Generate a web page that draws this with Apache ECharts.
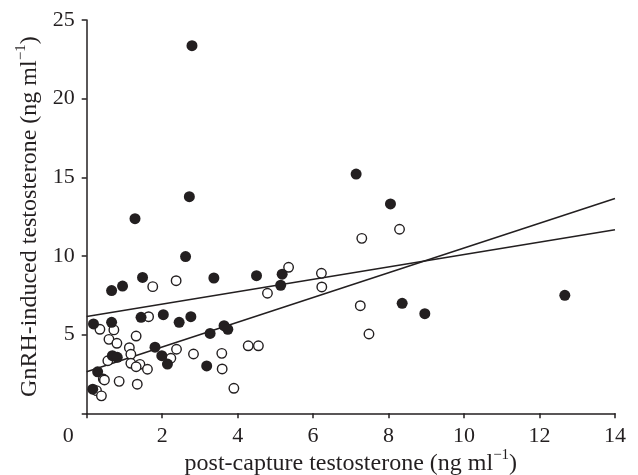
<!DOCTYPE html>
<html>
<head>
<meta charset="utf-8">
<script src="https://cdn.jsdelivr.net/npm/echarts@6/dist/echarts.min.js"></script>
<style>
html,body{margin:0;padding:0;background:#fff;}
#chart{width:638px;height:475px;}
</style>
</head>
<body>
<div id="chart"></div>
<script>
// Filled circles: [post-capture, GnRH-induced]
var filledPoints = [
  [2.79,23.37],[2.72,13.77],[1.28,12.37],[2.62,9.96],[1.48,8.64],[0.95,8.09],[0.66,7.80],
  [3.37,8.60],[4.50,8.75],[7.14,15.21],[8.05,13.31],[5.18,8.84],[5.14,8.14],[8.36,6.99],
  [8.96,6.33],[12.67,7.50],[0.18,5.68],[0.66,5.78],[1.44,6.10],[2.03,6.27],[2.45,5.78],
  [2.76,6.14],[3.27,5.08],[3.64,5.57],[3.74,5.34],[0.68,3.66],[0.81,3.56],[1.81,4.20],
  [1.99,3.66],[2.14,3.13],[3.18,3.01],[0.29,2.64],[0.16,1.53]
];
// Open circles
var openPoints = [
  [1.75,8.05],[2.37,8.43],[8.29,11.70],[7.29,11.12],[5.35,9.28],[4.79,7.63],[6.22,8.90],
  [6.23,8.03],[7.25,6.84],[7.48,5.04],[4.28,4.29],[4.55,4.29],[0.35,5.34],[0.72,5.30],
  [1.64,6.14],[0.59,4.70],[0.80,4.45],[1.31,4.91],[1.13,4.17],[1.17,3.75],[0.56,3.34],
  [1.17,3.18],[1.41,3.11],[1.31,2.96],[1.61,2.80],[2.38,4.07],[2.23,3.50],[2.83,3.77],
  [3.58,3.81],[3.59,2.82],[3.90,1.59],[0.44,2.18],[0.26,1.44],[0.39,1.11],[0.47,2.12],
  [0.86,2.03],[1.34,1.85]
];
// Regression line endpoints
var lineX = [0, 14];
var lineShallowY = [6.15, 11.67];
var lineSteepY = [2.64, 13.65];

var xTicks = [0, 2, 4, 6, 8, 10, 12, 14];
var yTicks = [0, 5, 10, 15, 20, 25];

var FONT = "'Liberation Serif','Times New Roman',serif";
var INK = '#231f20';

function pairs(xs, ys){ return xs.map(function(x,i){ return [x, ys[i]]; }); }

var chart = echarts.init(document.getElementById('chart'), null, {renderer:'canvas'});
chart.setOption({
  animation: false,
  backgroundColor: '#fff',
  grid: {left: 86.7, right: 23, top: 20, bottom: 61.7, containLabel: false, outerBoundsMode: 'none'},
  xAxis: {
    type: 'value', min: xTicks[0], max: xTicks[xTicks.length-1], interval: 2,
    axisLine: {show: true, onZero: false, lineStyle: {color: INK, width: 1.5}},
    axisTick: {show: true, inside: false, length: 5, lineStyle: {color: INK, width: 1.5}},
    splitLine: {show: false},
    axisLabel: {
      color: INK, fontFamily: FONT, fontSize: 22, margin: 12,
      formatter: function(v){ return v === 0 ? '{zero|0}' : String(v); },
      rich: {zero: {fontFamily: FONT, fontSize: 22, color: INK, padding: [0, 37, 0, 0]}}
    },
    name: '{t|post-capture testosterone (ng ml}{s|\u22121}{t|)}',
    nameLocation: 'middle', nameGap: 34, nameMoveOverlap: false,
    nameTextStyle: {
      rich: {
        t: {fontFamily: FONT, fontSize: 24, color: INK, lineHeight: 28, verticalAlign: 'bottom'},
        s: {fontFamily: FONT, fontSize: 15, color: INK, lineHeight: 28, verticalAlign: 'top'}
      }
    }
  },
  yAxis: {
    type: 'value', min: yTicks[0], max: yTicks[yTicks.length-1], interval: 5,
    axisLine: {show: true, onZero: false, lineStyle: {color: INK, width: 1.5}},
    axisTick: {show: true, inside: false, length: 5, lineStyle: {color: INK, width: 1.5}},
    splitLine: {show: false},
    axisLabel: {
      color: INK, fontFamily: FONT, fontSize: 22, margin: 12,
      formatter: function(v){ return v === 0 ? '' : String(v); }
    },
    name: '{t|GnRH-induced testosterone (ng ml}{s|\u22121}{t|)}',
    nameLocation: 'middle', nameGap: 44, nameRotate: 90,
    nameTextStyle: {
      rich: {
        t: {fontFamily: FONT, fontSize: 24, color: INK, lineHeight: 28, verticalAlign: 'bottom'},
        s: {fontFamily: FONT, fontSize: 15, color: INK, lineHeight: 28, verticalAlign: 'top'}
      }
    }
  },
  series: [
    {
      type: 'line', data: pairs(lineX, lineShallowY), symbol: 'none', silent: true,
      lineStyle: {color: INK, width: 1.5}, z: 1
    },
    {
      type: 'line', data: pairs(lineX, lineSteepY), symbol: 'none', silent: true,
      lineStyle: {color: INK, width: 1.5}, z: 1
    },
    {
      type: 'scatter', data: openPoints, symbol: 'circle', symbolSize: 9.5,
      itemStyle: {color: '#fff', borderColor: INK, borderWidth: 1.4, opacity: 1}, z: 3
    },
    {
      type: 'scatter', data: filledPoints, symbol: 'circle', symbolSize: 11,
      itemStyle: {color: INK, borderColor: INK, borderWidth: 0, opacity: 1}, z: 4
    }
  ]
});
</script>
</body>
</html>
